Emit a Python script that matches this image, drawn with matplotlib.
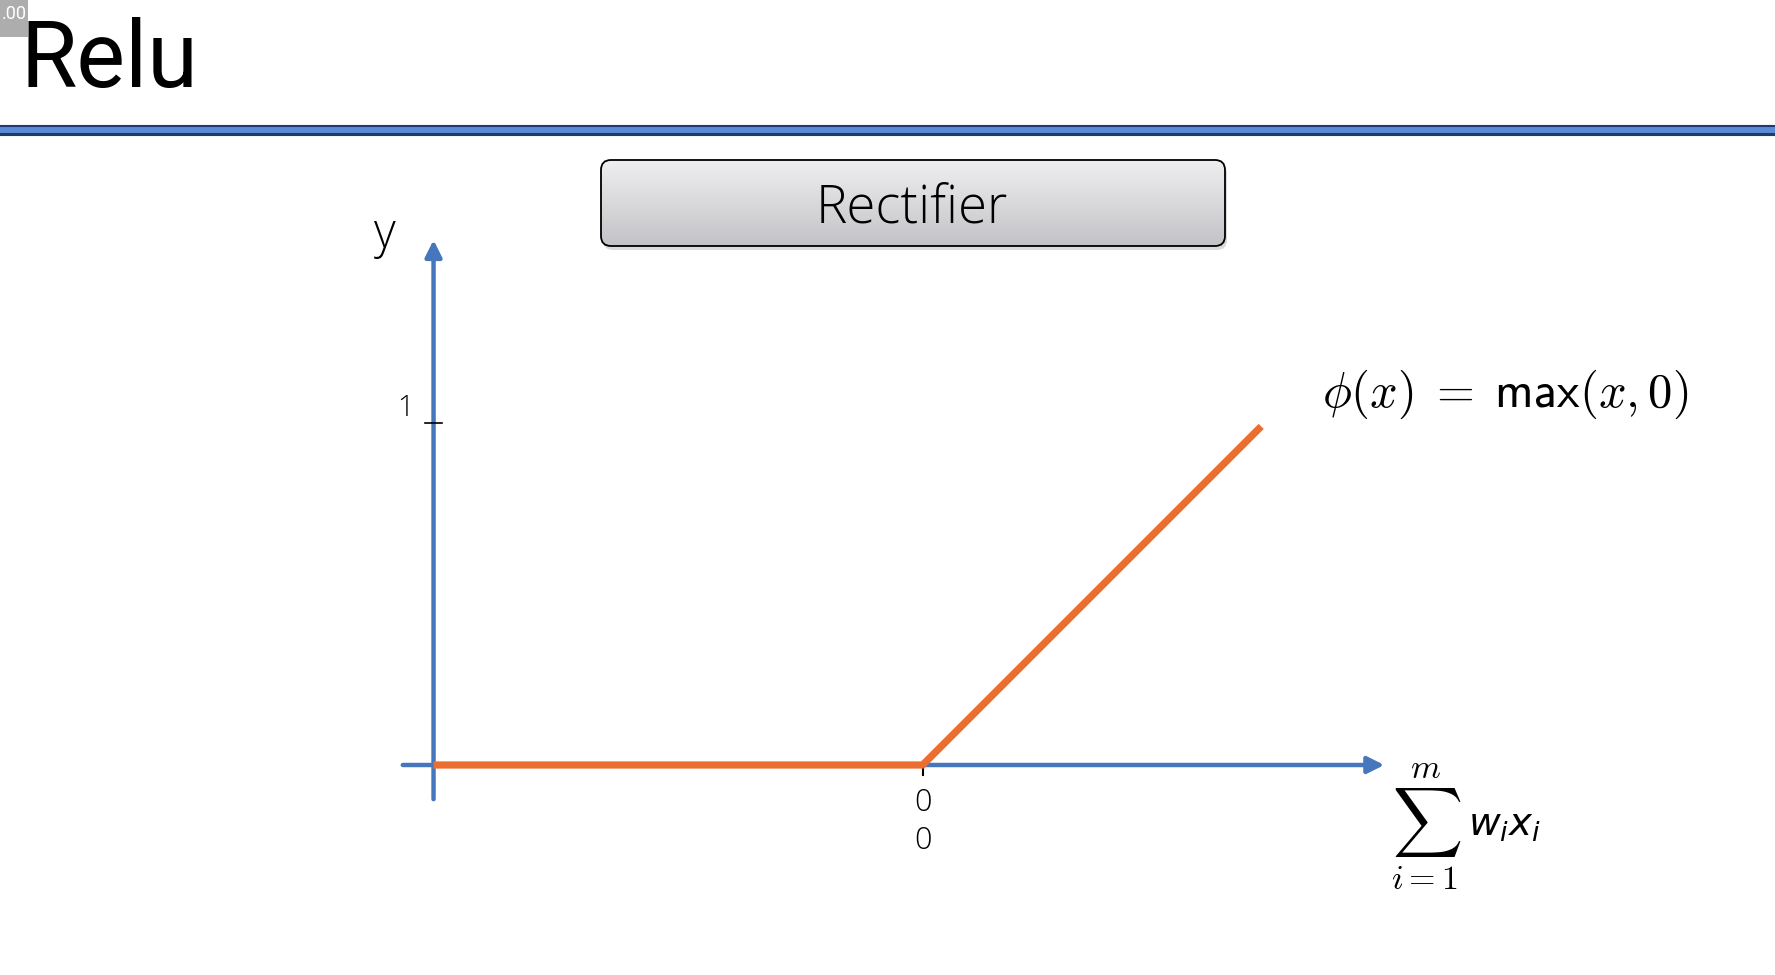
import numpy as np
import matplotlib
matplotlib.use("Agg")
import matplotlib.pyplot as plt
from matplotlib.patches import FancyBboxPatch, Rectangle
from matplotlib.lines import Line2D
from matplotlib.colors import LinearSegmentedColormap

# ---- data ----
relu_x = [-1.43, 0.0, 0.99]
relu_y = [0.0, 0.0, 0.99]
x_axis_range = [-1.52, 1.35]
y_axis_range = [-0.10, 1.535]
y_axis_pos = -1.43
x_ticks = [0]
x_tick_rows = ['0', '0']
y_ticks = [1]
y_tick_labels = ['1']

title = 'Relu'
box_label = 'Rectifier'
formula = r'$\phi(x)\;=\;\mathsf{max}(x, \mathsf{0})$'
sum_part = r'$\sum_{i=1}^{m}$'
sum_term = r'$w_i x_i$'

blue = '#4677bd'
orange = '#eb6d2f'
light_font = 'Open Sans'

W, H = 1775, 975
fig = plt.figure(figsize=(W / 100, H / 100), dpi=100)
fig.patch.set_facecolor('white')


def fx(px):
    return px / W


def fy(py):
    # py measured from the top of the image
    return 1 - py / H


# grey badge in the corner
fig.add_artist(Rectangle((0, fy(37)), fx(28), 37 / H, transform=fig.transFigure,
                         facecolor='#adadad', edgecolor='none'))
fig.text(fx(27), fy(14), '.00', color='white', fontsize=13, ha='right', va='center',
         family='Roboto')

# title
fig.text(fx(20), fy(87), title, fontsize=66, family='Roboto', va='baseline')

# blue rule under the title
fig.add_artist(Line2D([0, 1], [fy(130), fy(130)], transform=fig.transFigure,
                      color='#1f3b6e', lw=8))
fig.add_artist(Line2D([0, 1], [fy(130), fy(130)], transform=fig.transFigure,
                      color='#5b8bd5', lw=4.3))

# "Rectifier" button with gradient
bx, by, bw, bh = 6.01, (H - 246) / 100, 6.24, 0.86
shadow = FancyBboxPatch((bx + 0.02, by - 0.04), bw, bh,
                        boxstyle='round,pad=0,rounding_size=0.1',
                        transform=fig.dpi_scale_trans, facecolor='#999999',
                        edgecolor='none', alpha=0.35, zorder=-1)
fig.add_artist(shadow)
ax_box = fig.add_axes([bx * 100 / W, by * 100 / H, bw * 100 / W, bh * 100 / H])
ax_box.axis('off')
grad = np.linspace(0, 1, 256).reshape(-1, 1)
cmap = LinearSegmentedColormap.from_list('btn', ['#c3c3c7', '#efeff0'])
im = ax_box.imshow(grad, cmap=cmap, extent=[0, 1, 0, 1], aspect='auto', origin='lower')
ax_box.set_xlim(0, 1)
ax_box.set_ylim(0, 1)
clip = FancyBboxPatch((bx, by), bw, bh, boxstyle='round,pad=0,rounding_size=0.1',
                      transform=fig.dpi_scale_trans, facecolor='none', edgecolor='none')
im.set_clip_path(clip)
fig.add_artist(FancyBboxPatch((bx, by), bw, bh, boxstyle='round,pad=0,rounding_size=0.1',
                              transform=fig.dpi_scale_trans, facecolor='none',
                              edgecolor='black', lw=1.3, zorder=5))
fig.text(fx(912), fy(209), box_label, fontsize=38, family=light_font, weight=300,
         ha='center', va='center', zorder=6)

# chart axes, one data unit = 342 px both ways
ax = fig.add_axes([341.2 / W, 56.1 / H, 1128.6 / W, 718.2 / H])
ax.set_xlim(-1.7, 1.6)
ax.set_ylim(-0.45, 1.65)
ax.axis('off')

arrow = dict(arrowstyle='-|>', color=blue, lw=3.2, mutation_scale=25, shrinkA=0, shrinkB=0)
ax.annotate('', xy=(x_axis_range[1], 0), xytext=(x_axis_range[0], 0), arrowprops=arrow)
ax.annotate('', xy=(y_axis_pos, y_axis_range[1]), xytext=(y_axis_pos, y_axis_range[0]),
            arrowprops=arrow)

# small tick marks
for t in y_ticks:
    ax.plot([y_axis_pos - 0.025, y_axis_pos + 0.025], [t, t], color='black', lw=1.2, zorder=4)
for t in x_ticks:
    ax.plot([t, t], [0, -0.03], color='black', lw=1.5, zorder=2)

ax.plot(relu_x, relu_y, color=orange, lw=5.2, solid_capstyle='butt',
        solid_joinstyle='miter', zorder=3)

# tick labels
for t in x_ticks:
    for i, lab in enumerate(x_tick_rows):
        ax.text(t, -0.111 - i * 0.11, lab, ha='center', va='center', fontsize=22,
                family=light_font, weight=300)
for t, lab in zip(y_ticks, y_tick_labels):
    ax.text(-1.513, t + 0.044, lab, ha='center', va='center', fontsize=21,
            family=light_font, weight=300)
ax.text(-1.572, 1.55, 'y', ha='center', va='center', fontsize=34, family=light_font,
        weight=300)

# formulas
ax.text(1.169, 1.085, formula, fontsize=35, math_fontfamily='cm', ha='left', va='center')
ax.text(1.472, -0.18, sum_part, fontsize=35, math_fontfamily='cm', ha='center', va='center')
ax.text(1.595, -0.174, sum_term, fontsize=28, math_fontfamily='dejavusans', ha='left',
        va='center')

fig.savefig('out.png', dpi=100)
